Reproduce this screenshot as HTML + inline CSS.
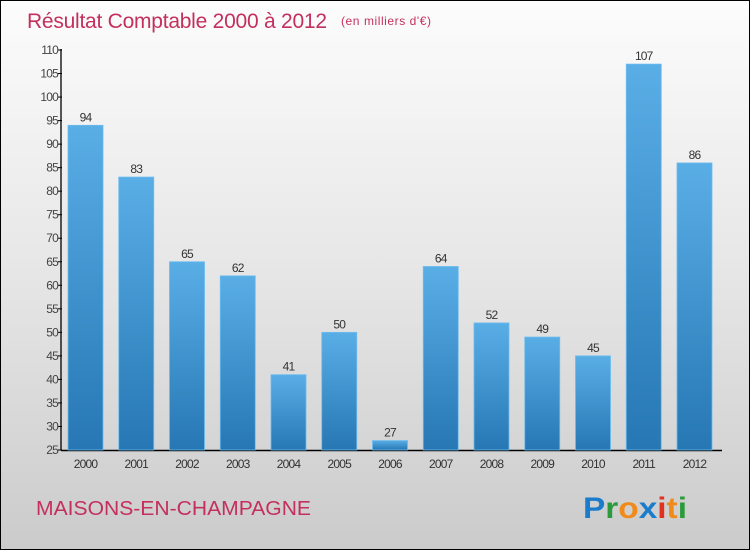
<!DOCTYPE html>
<html><head><meta charset="utf-8"><style>
body{margin:0;}
#c{position:relative;width:748px;height:548px;border:1px solid #000;background:linear-gradient(#fcfcfc,#e6e6e6 50%,#cbcbcb);overflow:hidden;font-family:"Liberation Sans",sans-serif;}
</style></head><body>
<div id="c">
<svg width="748" height="548" id="svg">
<defs><linearGradient id="bg" x1="0" y1="0" x2="0" y2="1"><stop offset="0" stop-color="#5aaee6"/><stop offset="1" stop-color="#2677b4"/></linearGradient></defs>
<text x="26" y="27" font-size="21" fill="#c4305e" textLength="300">Résultat Comptable 2000 à 2012</text>
<text x="340" y="24" font-size="12" fill="#c4305e" textLength="90">(en milliers d'€)</text>
<text x="35" y="514" font-size="20" fill="#c4305e" textLength="275" lengthAdjust="spacingAndGlyphs">MAISONS-EN-CHAMPAGNE</text>
<text x="582" y="517" font-size="30" font-weight="bold" textLength="104" lengthAdjust="spacingAndGlyphs"><tspan fill="#1b7ccc">P</tspan><tspan fill="#2a9a3a">r</tspan><tspan fill="#f08a1a">o</tspan><tspan fill="#1b7ccc">x</tspan><tspan fill="#e0301e">i</tspan><tspan fill="#f08a1a">t</tspan><tspan fill="#2a9a3a">i</tspan></text>
<g id="plot"></g>
</svg></div>
<script>
const years=["2000","2001","2002","2003","2004","2005","2006","2007","2008","2009","2010","2011","2012"];
const values=[94,83,65,62,41,50,27,64,52,49,45,107,86];
const ticks=[25,30,35,40,45,50,55,60,65,70,75,80,85,90,95,100,105,110];
const NS="http://www.w3.org/2000/svg";
const g=document.getElementById('plot');
const y=v=>449-(v-25)*400/85;
const x=i=>67+i*50.75;
function el(t,a,txt){const e=document.createElementNS(NS,t);for(const k in a)e.setAttribute(k,a[k]);if(txt!=null)e.textContent=txt;g.appendChild(e);return e;}
let ax=el('line',{x1:60,y1:48,x2:60,y2:449.5,stroke:'#000','stroke-width':1.3});


let bx=el('line',{x1:60,y1:449.5,x2:721,y2:449.5,stroke:'#000','stroke-width':1.5});


ticks.forEach(t=>{
 let l=el('line',{x1:57,x2:61,y1:y(t),y2:y(t),stroke:'#000'});
 
 
 let tx=el('text',{x:57,y:y(t)+4,'font-size':12,'text-anchor':'end',fill:'#444','letter-spacing':'-0.8'},t);
 
 
});
values.forEach((v,i)=>{
 let r=el('rect',{x:x(i),y:y(v),width:35,height:449-y(v),fill:'url(#bg)',stroke:'#6bbcef','stroke-width':0.8});
 
 
 let lt=el('text',{x:x(i)+17.5,y:y(v)-4,'font-size':12,'text-anchor':'middle',fill:'#333','letter-spacing':'-0.8'},v);
 
 
 let yt=el('text',{x:x(i)+17.5,y:467,'font-size':12,'text-anchor':'middle',fill:'#333','letter-spacing':'-0.8'},years[i]);
 
 
});
</script>
</body></html>
